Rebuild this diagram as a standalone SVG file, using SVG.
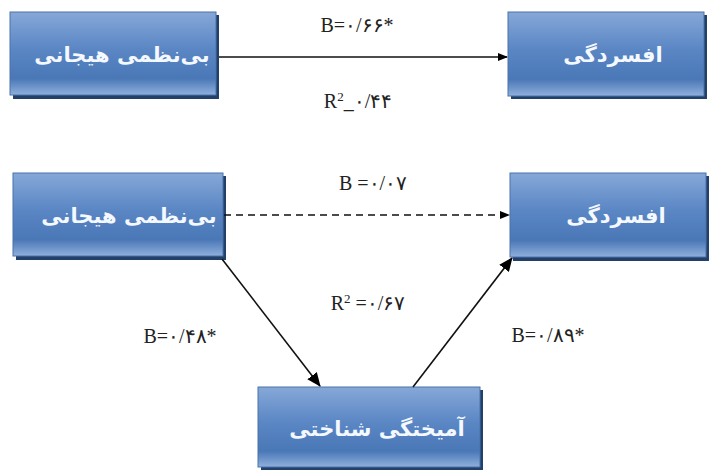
<svg xmlns="http://www.w3.org/2000/svg" width="709" height="470" viewBox="0 0 709 470">
<defs>
<linearGradient id="g" x1="0" y1="0" x2="0" y2="1">
<stop offset="0" stop-color="#86a8d8"/>
<stop offset="0.45" stop-color="#5a86c4"/>
<stop offset="0.8" stop-color="#4a77b6"/>
<stop offset="1" stop-color="#8fb0dc"/>
</linearGradient>
<marker id="ah" markerWidth="10" markerHeight="8" refX="9" refY="4" orient="auto" markerUnits="userSpaceOnUse">
<path d="M0,0 L10,4 L0,8 Z" fill="#000"/>
</marker>
<marker id="ah2" markerWidth="14" markerHeight="12" refX="13" refY="6" orient="auto" markerUnits="userSpaceOnUse">
<path d="M0,0 L14,6 L0,12 Z" fill="#000"/>
</marker>
</defs>
<style>
.sh{fill:#23406a}
.bx{fill:url(#g);stroke:#4a72aa;stroke-width:1}
.nt{font-family:"DejaVu Sans",sans-serif;font-size:21px;fill:#f4f8ff;text-anchor:middle;font-weight:bold}
.lb{font-family:"Liberation Serif","DejaVu Serif",serif;font-size:20px;fill:#222;text-anchor:middle}
.ln{stroke:#111;stroke-width:1.6;fill:none}
</style>
<rect width="709" height="470" fill="#fff"/>
<g id="n1">
<rect class="sh" x="13" y="15" width="206" height="84"/>
<rect class="bx" x="10" y="12" width="206" height="83"/>
<text class="nt" x="122" y="62">بی‌نظمی هیجانی</text>
</g>
<g id="n2">
<rect class="sh" x="511" y="15" width="196" height="84"/>
<rect class="bx" x="508" y="12" width="196" height="84"/>
<text class="nt" x="613" y="62">افسردگی</text>
</g>
<g id="n3">
<rect class="sh" x="16" y="176" width="210" height="84"/>
<rect class="bx" x="13" y="173" width="210" height="83"/>
<text class="nt" x="129" y="223">بی‌نظمی هیجانی</text>
</g>
<g id="n4">
<rect class="sh" x="513" y="176" width="196" height="85"/>
<rect class="bx" x="510" y="173" width="196" height="84"/>
<text class="nt" x="616" y="223">افسردگی</text>
</g>
<g id="n5">
<rect class="sh" x="261" y="390" width="222" height="80"/>
<rect class="bx" x="258" y="387" width="222" height="80"/>
<text class="nt" x="377" y="436">آمیختگی شناختی</text>
</g>
<g id="connectors">
<line class="ln" x1="219" y1="57" x2="507" y2="57" marker-end="url(#ah)"/>
<line class="ln" x1="224" y1="215" x2="509" y2="215" stroke-dasharray="7,5" marker-end="url(#ah)"/>
<line class="ln" x1="222" y1="259" x2="320" y2="386" marker-end="url(#ah2)"/>
<line class="ln" x1="413" y1="387" x2="512" y2="258" marker-end="url(#ah2)"/>
</g>
<g id="labels">
<text class="lb" x="357" y="32">B=۰/۶۶*</text>
<text class="lb" x="358" y="108">R<tspan font-size="13" dy="-7">2</tspan><tspan dy="7">_۰/۴۴</tspan></text>
<text class="lb" x="373" y="190">B =۰/۰۷</text>
<text class="lb" x="368" y="310">R<tspan font-size="13" dy="-7">2</tspan><tspan dy="7"> =۰/۶۷</tspan></text>
<text class="lb" x="180" y="343">B=۰/۴۸*</text>
<text class="lb" x="548" y="342">B=۰/۸۹*</text>
</g>
</svg>
